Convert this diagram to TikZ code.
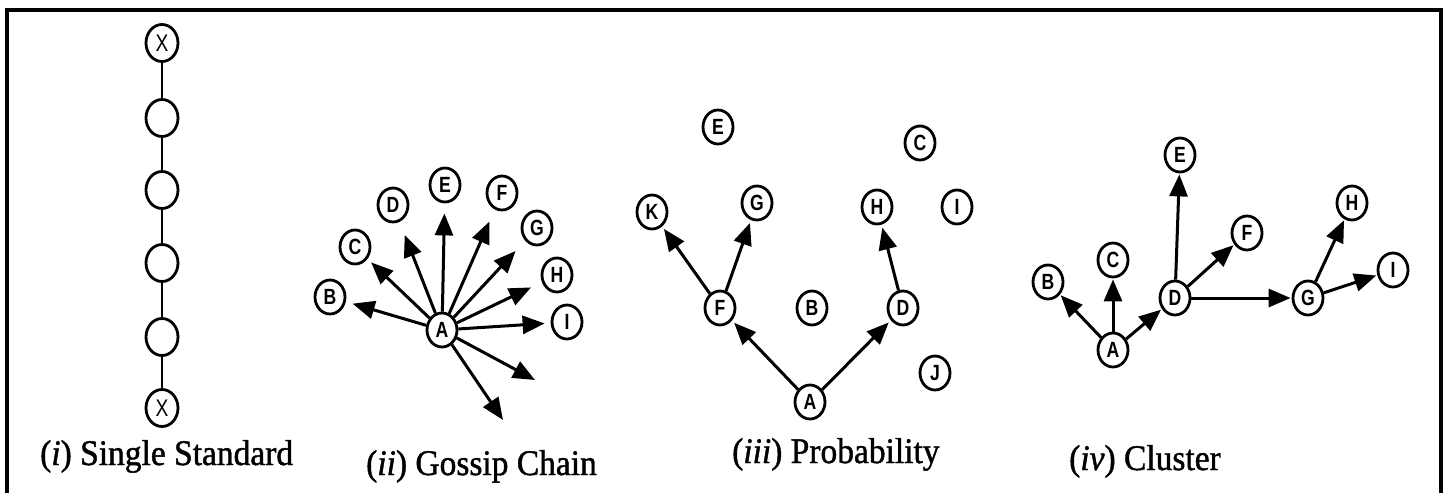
\documentclass[tikz,border=0pt]{standalone}
\usepackage{fontspec}
\usetikzlibrary{arrows.meta,shapes.geometric}
\newfontfamily\lettrfont[FakeStretch=0.8]{Liberation Sans}
\newfontfamily\labfont[FakeStretch=0.93,FakeBold=1.2]{Liberation Serif}
\begin{document}
\begin{tikzpicture}[x=1pt,y=-1pt,
  nd/.style={draw, line width=2.8pt, ellipse, inner sep=0pt, minimum width=30pt, minimum height=34pt,
    font=\lettrfont\bfseries\fontsize{22}{22}\selectfont},
  bignd/.style={nd, minimum width=32pt, minimum height=37pt, font=\lettrfont\fontsize{24}{24}\selectfont},
  arr/.style={-{Triangle[length=22pt,width=18pt]}, line width=3pt},
  lnk/.style={line width=2.8pt},
  lab/.style={anchor=base west, inner sep=0pt, font=\labfont\fontsize{36}{40}\selectfont}]
\useasboundingbox (0,0) rectangle (1445,493);
\draw[line width=4pt] (7,493) -- (7,10) -- (1441,10) -- (1441,493);

% (i) Single Standard
\node[bignd] (s1) at (162,43) {X};
\node[bignd] (s2) at (162,118) {};
\node[bignd] (s3) at (162,190) {};
\node[bignd] (s4) at (162,263) {};
\node[bignd] (s5) at (162,337) {};
\node[bignd] (s6) at (162,408) {X};
\draw[lnk] (s1) -- (s2) (s2) -- (s3) (s3) -- (s4) (s4) -- (s5) (s5) -- (s6);

% (ii) Gossip Chain
\node[nd] (gA) at (442,330) {A};
\node[nd] (gB) at (330,297) {B};
\node[nd] (gC) at (355,247) {C};
\node[nd] (gD) at (393,205) {D};
\node[nd] (gE) at (445,185) {E};
\node[nd] (gF) at (502,193) {F};
\node[nd] (gG) at (537,228) {G};
\node[nd] (gH) at (557,275) {H};
\node[nd] (gI) at (567,322) {I};
\coordinate (gx1) at (535,380);
\coordinate (gx2) at (503,420);
\draw[arr, shorten >=7pt] (gA) -- (gB);
\draw[arr, shorten >=5pt] (gA) -- (gC);
\draw[arr, shorten >=14pt] (gA) -- (gD);
\draw[arr, shorten >=10pt] (gA) -- (gE);
\draw[arr, shorten >=13pt] (gA) -- (gF);
\draw[arr, shorten >=14pt] (gA) -- (gG);
\draw[arr, shorten >=12pt] (gA) -- (gH);
\draw[arr, shorten >=6pt] (gA) -- (gI);
\draw[arr] (gA) -- (gx1);
\draw[arr] (gA) -- (gx2);

% (iii) Probability
\node[nd] (pE) at (718,127) {E};
\node[nd] (pC) at (920,143) {C};
\node[nd] (pK) at (652,212) {K};
\node[nd] (pG) at (757,203) {G};
\node[nd] (pH) at (877,207) {H};
\node[nd] (pI) at (957,207) {I};
\node[nd] (pF) at (720,308) {F};
\node[nd] (pB) at (812,308) {B};
\node[nd] (pD) at (903,308) {D};
\node[nd] (pJ) at (935,373) {J};
\node[nd] (pA) at (810,402) {A};
\draw[arr, shorten >=3pt] (pA) -- (pF);
\draw[arr, shorten >=3pt] (pA) -- (pD);
\draw[arr, shorten >=3pt] (pF) -- (pK);
\draw[arr, shorten >=3pt] (pF) -- (pG);
\draw[arr, shorten >=3pt] (pD) -- (pH);

% (iv) Cluster
\node[nd] (cE) at (1180,155) {E};
\node[nd] (cH) at (1352,203) {H};
\node[nd] (cF) at (1247,233) {F};
\node[nd] (cC) at (1113,260) {C};
\node[nd] (cI) at (1393,270) {I};
\node[nd] (cB) at (1048,282) {B};
\node[nd] (cD) at (1175,298) {D};
\node[nd] (cG) at (1308,298) {G};
\node[nd] (cA) at (1113,350) {A};
\draw[arr, shorten >=1pt] (cA) -- (cB);
\draw[arr, shorten >=1pt] (cA) -- (cC);
\draw[arr, shorten >=1pt] (cA) -- (cD);
\draw[arr, shorten >=1pt] (cD) -- (cE);
\draw[arr, shorten >=1pt] (cD) -- (cF);
\draw[arr, shorten >=1pt] (cD) -- (cG);
\draw[arr, shorten >=1pt] (cG) -- (cH);
\draw[arr, shorten >=1pt] (cG) -- (cI);

% labels
\node[lab] (l1) at (40,465) {(\textit{i}) Single Standard};
\node[lab] (l2) at (366,475) {(\textit{ii}) Gossip Chain};
\node[lab] (l3) at (732,463) {(\textit{iii}) Probability};
\node[lab] (l4) at (1069,470) {(\textit{iv}) Cluster};
\end{tikzpicture}
\end{document}
